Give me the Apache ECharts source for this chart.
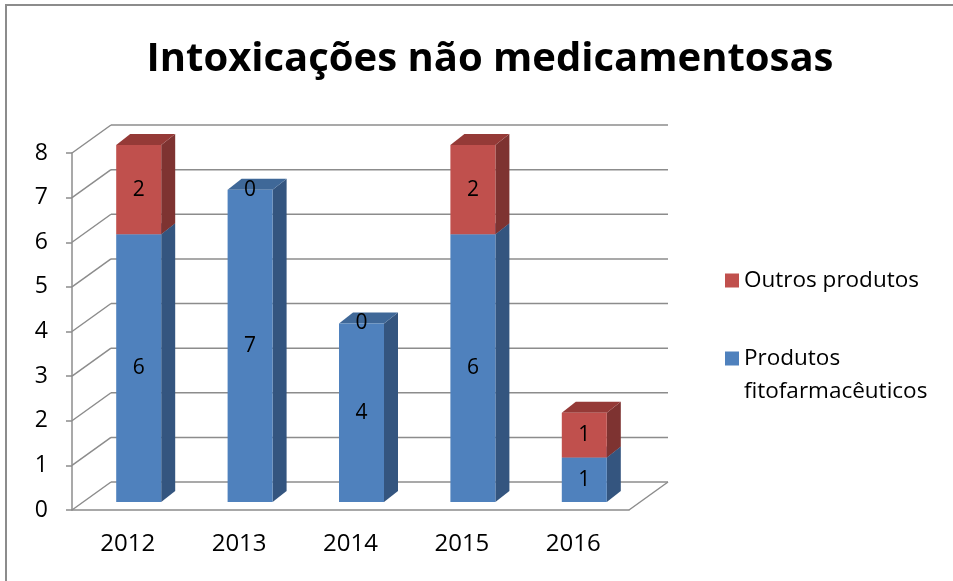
<!DOCTYPE html>
<html>
<head>
<meta charset="utf-8">
<script src="https://cdn.jsdelivr.net/npm/echarts@6/dist/echarts.min.js"></script>
<style>
	html, body { margin: 0; padding: 0; background: #fff; overflow: hidden; }
	#chart { width: 953px; height: 581px; }
	#moldura {
		position: absolute; left: 5px; top: 4px; width: 960px; height: 600px;
		border-left: 2px solid #8c8c8c; border-top: 2px solid #8c8c8c;
		pointer-events: none;
	}
</style>
</head>
<body>
<div id="chart"></div>
<div id="moldura"></div>
<script>
	// dados do gráfico
	var anos = ['2012', '2013', '2014', '2015', '2016'];
	var fitofarmaceuticos = [6, 7, 4, 6, 1];
	var outrosProdutos = [2, 0, 0, 2, 1];
	var marcasY = [0, 1, 2, 3, 4, 5, 6, 7, 8];

	// geometria do efeito 3D (pixels)
	var FRENTE_DX = 11, FRENTE_DY = -8;   // face da frente das barras
	var PROF_DX = 14, PROF_DY = -11;      // profundidade da barra
	var FUNDO_DX = 39, FUNDO_DY = -28;    // parede do fundo
	var LARGURA = 45;
	var FONTE = '"Open Sans", sans-serif';
	var CINZA = '#8c8c8c';

	var cores = {
		azul: { frente: '#4f81bd', lado: '#34557f', topo: '#3f6898' },
		vermelho: { frente: '#c0504d', lado: '#7e3331', topo: '#953a37' }
	};

	function desenhaBarra(cor) {
		return function (params, api) {
			var cat = api.value(0), base = api.value(1), v = api.value(2);
			var pBase = api.coord([cat, base]);
			var pTopo = api.coord([cat, base + v]);
			var cx = pBase[0] + FRENTE_DX;
			var xl = cx - LARGURA / 2, xr = cx + LARGURA / 2;
			var yb = pBase[1] + FRENTE_DY, yt = pTopo[1] + FRENTE_DY;
			var rotulo = {
				type: 'text', z2: 10,
				style: {
					text: String(v), x: cx, y: v === 0 ? yt : (yb + yt) / 2,
					align: 'center', verticalAlign: 'middle',
					font: '21px ' + FONTE, fill: '#000'
				}
			};
			if (v === 0) {
				return { type: 'group', children: [rotulo] };
			}
			return {
				type: 'group',
				children: [
					{
						type: 'polygon',
						shape: { points: [[xr, yb], [xr + PROF_DX, yb + PROF_DY], [xr + PROF_DX, yt + PROF_DY], [xr, yt]] },
						style: { fill: cor.lado }
					},
					{
						type: 'polygon',
						shape: { points: [[xl, yt], [xl + PROF_DX, yt + PROF_DY], [xr + PROF_DX, yt + PROF_DY], [xr, yt]] },
						style: { fill: cor.topo }
					},
					{
						type: 'rect',
						shape: { x: xl, y: yt, width: LARGURA, height: yb - yt },
						style: { fill: cor.frente }
					},
					rotulo
				]
			};
		};
	}

	var myChart = echarts.init(document.getElementById('chart'));

	var dadosAzul = anos.map(function (a, i) { return [i, 0, fitofarmaceuticos[i]]; });
	var dadosVermelho = anos.map(function (a, i) { return [i, fitofarmaceuticos[i], outrosProdutos[i]]; });

	myChart.setOption({
		animation: false,
		title: {
			text: 'Intoxicações não medicamentosas',
			left: 485,
			textAlign: 'center',
			top: 35,
			textStyle: { fontFamily: FONTE, fontWeight: 'bold', fontSize: 40, color: '#000' }
		},
		legend: [{
			data: ['Outros produtos'],
			left: 725, top: 264, padding: 0,
			icon: 'rect', itemWidth: 14, itemHeight: 14,
			textStyle: { fontFamily: FONTE, fontSize: 22.5, color: '#000', lineHeight: 33 }
		}, {
			data: ['Produtos fitofarmacêuticos'],
			left: 725, top: 309, padding: 0,
			icon: 'rect', itemWidth: 14, itemHeight: 14,
			formatter: function () { return ' \nProdutos\nfitofarmacêuticos'; },
			textStyle: { fontFamily: FONTE, fontSize: 22.5, color: '#000', lineHeight: 33 }
		}],
		grid: { left: 72, top: 153, width: 557, height: 357 },
		xAxis: {
			type: 'category',
			data: anos,
			axisLine: { lineStyle: { color: CINZA, width: 1.5 } },
			axisTick: { length: 8, lineStyle: { color: CINZA, width: 1.5 } },
			axisLabel: { fontFamily: FONTE, fontSize: 24, color: '#000', margin: 22 }
		},
		yAxis: {
			type: 'value',
			min: 0, max: 8, interval: 1,
			splitLine: { show: false },
			axisLine: { show: true, lineStyle: { color: CINZA, width: 1.5 } },
			axisTick: { show: true, length: 6, lineStyle: { color: CINZA, width: 1.5 } },
			axisLabel: { fontFamily: FONTE, fontSize: 23, color: '#000', margin: 24 }
		},
		series: [{
			// grade das paredes do fundo
			type: 'custom',
			silent: true,
			z: 1,
			data: marcasY.map(function (v) { return [0, v]; }),
			renderItem: function (params, api) {
				var y = api.coord([0, api.value(1)])[1];
				var x0 = params.coordSys.x, x1 = x0 + params.coordSys.width;
				var estilo = { stroke: CINZA, lineWidth: 1.5 };
				var linhas = [
					{ type: 'line', shape: { x1: x0, y1: y, x2: x0 + FUNDO_DX, y2: y + FUNDO_DY }, style: estilo },
					{ type: 'line', shape: { x1: x0 + FUNDO_DX, y1: y + FUNDO_DY, x2: x1 + FUNDO_DX, y2: y + FUNDO_DY }, style: estilo }
				];
				if (api.value(1) === 0) {
					linhas.push({ type: 'line', shape: { x1: x1, y1: y, x2: x1 + FUNDO_DX, y2: y + FUNDO_DY }, style: estilo });
				}
				return { type: 'group', children: linhas };
			}
		}, {
			name: 'Produtos fitofarmacêuticos',
			type: 'custom',
			z: 2,
			itemStyle: { color: cores.azul.frente },
			data: dadosAzul,
			renderItem: desenhaBarra(cores.azul)
		}, {
			name: 'Outros produtos',
			type: 'custom',
			z: 3,
			itemStyle: { color: cores.vermelho.frente },
			data: dadosVermelho,
			renderItem: desenhaBarra(cores.vermelho)
		}]
	});
</script>
</body>
</html>
